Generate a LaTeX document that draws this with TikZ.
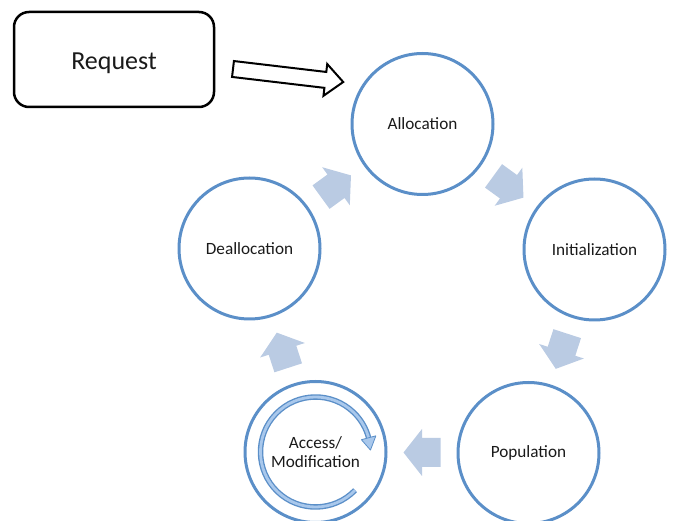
\documentclass[tikz,border=0pt]{standalone}
\usepackage{fontspec}
\setmainfont{Carlito}
\usetikzlibrary{calc,arrows.meta}
\definecolor{ringblue}{HTML}{5B8FC8}
\definecolor{arrowblue}{HTML}{BACBE3}
\definecolor{lightring}{HTML}{A9C8EC}
\definecolor{textdark}{HTML}{1A1A1A}
\tikzset{
  stage/.style={circle, draw=ringblue, line width=3pt, minimum size=141pt, inner sep=0pt, font=\fontsize{17.2}{19}\selectfont, text=textdark, align=center},
  reqbox/.style={draw=black, line width=2.5pt, rounded corners=15pt, minimum width=200pt, minimum height=95pt, font=\fontsize{26}{28}\selectfont, text depth=0pt, text=textdark},
  flowarrow/.style={fill=arrowblue, draw=none},
  hollowarrow/.style={draw=black, line width=2pt, fill=white, line join=miter}
}
\begin{document}
\begin{tikzpicture}[x=1pt,y=-1pt]
\useasboundingbox (0,0) rectangle (673,521);
\node[reqbox] (req) at (114,59.5) {\raisebox{-3.5pt}{Request}};
\node[stage] (alloc) at (422.5,124) {Allocation};
\node[stage] (init) at (594.5,249.5) {Initialization};
\node[stage] (pop) at (528.5,453) {Population};
\node[stage] (acc) at (315.5,452) {Access/\\Modification};
\node[stage] (dealloc) at (249.5,248.5) {Deallocation};
% cycle arrows
\foreach \a/\b/\r in {alloc/init/-36, init/pop/-108, pop/acc/180, acc/dealloc/108, dealloc/alloc/36}{
  \coordinate (m) at ($(\a)!0.5!(\b)$);
  \fill[flowarrow, shift={(m)}, rotate=\r] (-18.5,-14.5) -- (0,-14.5) -- (0,-23.5) -- (18.5,0) -- (0,23.5) -- (0,14.5) -- (-18.5,14.5) -- cycle;
}
% request arrow
\coordinate (rs) at (233,69);
\draw[hollowarrow, shift={(rs)}, rotate=-6.74] (0,-8) -- (93,-8) -- (93,-16) -- (111,0) -- (93,16) -- (93,8) -- (0,8) -- cycle;
% inner circular arrow in access node
\draw[ringblue, line width=5.5pt] ($(acc)+(44:55)$) arc[start angle=44, end angle=346, radius=55];
\draw[lightring, line width=2.8pt] ($(acc)+(44:55)$) arc[start angle=44, end angle=346.5, radius=55];
\filldraw[ringblue, line width=0.8pt, line join=round, fill=lightring, shift={(acc)}] (345:62.5) -- (358:55) -- (345:47.5) -- cycle;
\end{tikzpicture}
\end{document}
